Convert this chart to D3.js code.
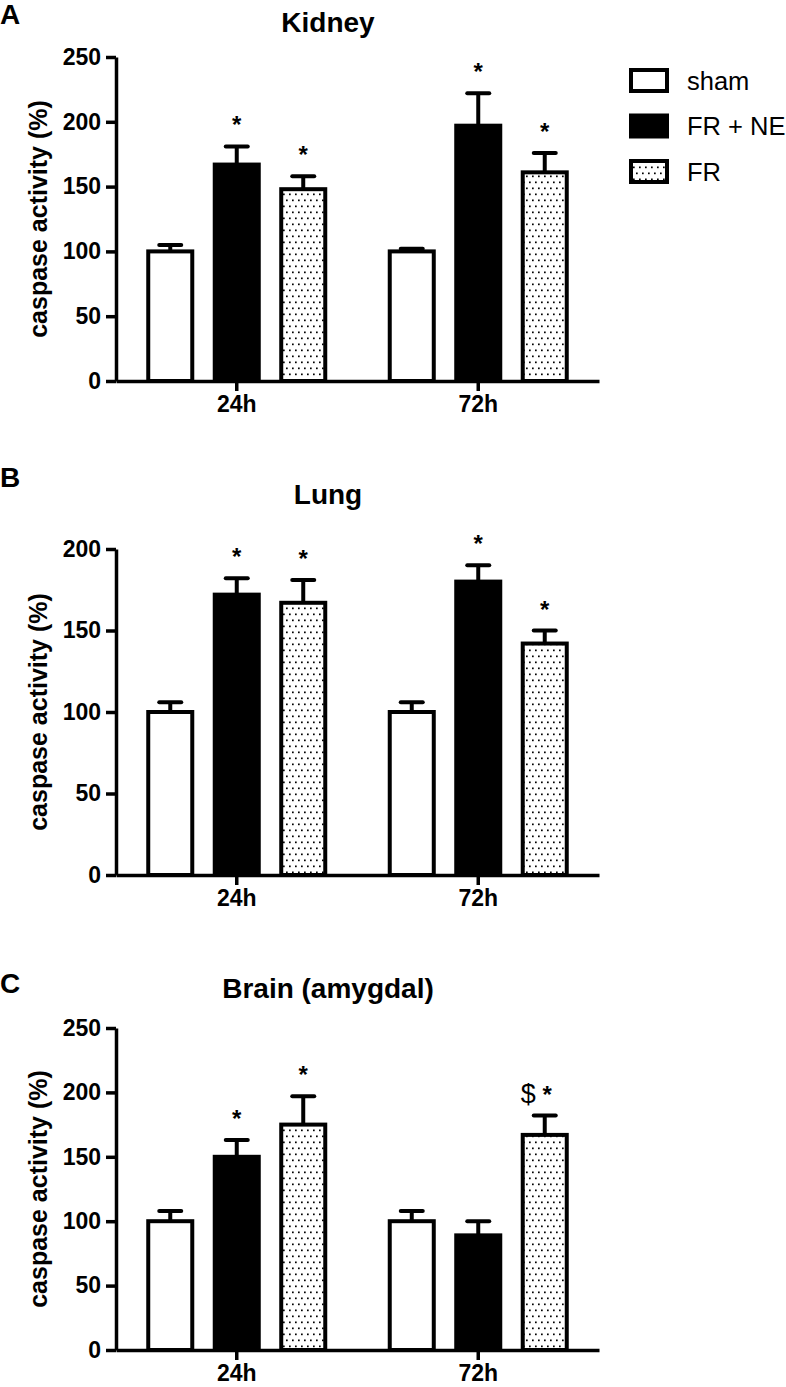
<!DOCTYPE html>
<html>
<head>
<meta charset="utf-8">
<script src="https://cdn.jsdelivr.net/npm/d3@7"></script>
<style>
  body { margin: 0; background: #fff; }
  text { font-family: "Liberation Sans", Arial, sans-serif; fill: #000; }
</style>
</head>
<body>
<div id="chart"></div>
<script>
// Data
const timepoints = ["24h", "72h"];
const groups = ["sham", "FR + NE", "FR"];

// rows = timepoints, columns = groups
const kidneyMean = [[100, 167, 148], [100, 197, 161]];
const kidneyErr = [[5, 14, 10], [2, 25, 15]];
const kidneyMarks = [["", "*", "*"], ["", "*", "*"]];
const kidneyTicks = [0, 50, 100, 150, 200, 250];

const lungMean = [[100, 172, 167], [100, 180, 142]];
const lungErr = [[6, 10, 14], [6, 10, 8]];
const lungMarks = [["", "*", "*"], ["", "*", "*"]];
const lungTicks = [0, 50, 100, 150, 200];

const brainMean = [[100, 150, 175], [100, 89, 167]];
const brainErr = [[8, 13, 22], [8, 11, 15]];
const brainMarks = [["", "*", "*"], ["", "", "$ *"]];
const brainTicks = [0, 50, 100, 150, 200, 250];

const panelLetters = ["A", "B", "C"];
const panelTitles = ["Kidney", "Lung", "Brain (amygdal)"];
const yLabel = "caspase activity (%)";

const panels = [
    { mean: kidneyMean, err: kidneyErr, marks: kidneyMarks, ticks: kidneyTicks },
    { mean: lungMean, err: lungErr, marks: lungMarks, ticks: lungTicks },
    { mean: brainMean, err: brainErr, marks: brainMarks, ticks: brainTicks },
];

// Dimensions
const dimensions = {
    width: 786,
    height: 1387,
    left: 116,
    right: 599,
}
const layout = [
    { top: 57, bottom: 381, titleY: 32, letterY: 24 },
    { top: 549, bottom: 875, titleY: 504, letterY: 487 },
    { top: 1028, bottom: 1350, titleY: 998, letterY: 993 },
]

const fills = { "sham": "#fff", "FR + NE": "#000", "FR": "url(#dots)" };

const svg = d3.select("#chart")
    .append("svg")
    .attr("width", dimensions.width)
    .attr("height", dimensions.height)

// dotted fill
const pattern = svg.append("defs").append("pattern")
    .attr("id", "dots")
    .attr("patternUnits", "userSpaceOnUse")
    .attr("width", 6)
    .attr("height", 12)
pattern.append("rect").attr("width", 6).attr("height", 12).attr("fill", "#fff")
pattern.append("rect").attr("x", 1).attr("y", 1.5).attr("width", 1.7).attr("height", 1.7).attr("fill", "#000")
pattern.append("rect").attr("x", 4).attr("y", 7.5).attr("width", 1.7).attr("height", 1.7).attr("fill", "#000")

panels.forEach((p, k) => {
    const L = layout[k];
    const g = svg.append("g");

    const yScale = d3.scaleLinear()
        .domain([0, d3.max(p.ticks)])
        .range([L.bottom, L.top])

    const x0 = d3.scaleBand()
        .domain(timepoints)
        .range([dimensions.left, dimensions.right])

    const x1 = d3.scaleBand()
        .domain(groups)
        .range([0, x0.bandwidth()])
        .paddingInner(0.338)
        .paddingOuter(0.485)

    const rows = timepoints.flatMap((t, i) => groups.map((grp, j) => ({
        t, grp, v: p.mean[i][j], e: p.err[i][j], m: p.marks[i][j]
    })))
    const cx = (d) => x0(d.t) + x1(d.grp) + x1.bandwidth() / 2;

    // error bars (upper only)
    g.selectAll(".err")
        .data(rows)
        .join("line")
        .attr("x1", cx).attr("x2", cx)
        .attr("y1", (d) => yScale(d.v))
        .attr("y2", (d) => yScale(d.v + d.e))
        .attr("stroke", "#000")
        .attr("stroke-width", 4)
    g.selectAll(".cap")
        .data(rows)
        .join("line")
        .attr("x1", (d) => cx(d) - 11).attr("x2", (d) => cx(d) + 11)
        .attr("y1", (d) => yScale(d.v + d.e))
        .attr("y2", (d) => yScale(d.v + d.e))
        .attr("stroke", "#000")
        .attr("stroke-width", 4)
        .attr("stroke-linecap", "round")

    // bars
    g.selectAll(".bar")
        .data(rows)
        .join("rect")
        .attr("x", (d) => x0(d.t) + x1(d.grp))
        .attr("y", (d) => yScale(d.v))
        .attr("width", x1.bandwidth())
        .attr("height", (d) => yScale(0) - yScale(d.v))
        .attr("fill", (d) => fills[d.grp])
        .attr("stroke", "#000")
        .attr("stroke-width", 4)

    // significance marks
    rows.filter((d) => d.m).forEach((d) => {
        const ty = yScale(d.v + d.e) - 13;
        const txt = g.append("text")
            .attr("y", ty)
            .attr("font-size", 24)
        if (d.m.includes("$")) {
            txt.attr("x", cx(d) + 7).attr("text-anchor", "end")
            txt.append("tspan").attr("font-size", 27).text("$")
            txt.append("tspan").attr("font-weight", "bold").text(" *")
        } else {
            txt.attr("x", cx(d)).attr("text-anchor", "middle")
                .attr("font-weight", "bold")
                .text(d.m)
        }
    })

    // axes
    const yAxis = d3.axisLeft(yScale)
        .tickValues(p.ticks)
        .tickSize(10)
        .tickSizeOuter(0)
        .tickPadding(5)
    const yAxisGroup = g.append("g")
        .attr("transform", `translate(${dimensions.left}, 0)`)
        .call(yAxis)
    yAxisGroup.selectAll("text")
        .attr("font-size", 23)
        .attr("font-weight", "bold")
        .style("font-family", "'Liberation Sans', Arial, sans-serif")

    const xAxis = d3.axisBottom(x0)
        .tickSize(10)
        .tickSizeOuter(0)
        .tickPadding(5)
    const xAxisGroup = g.append("g")
        .attr("transform", `translate(0, ${L.bottom})`)
        .call(xAxis)
    xAxisGroup.selectAll("text")
        .attr("font-size", 23)
        .attr("font-weight", "bold")
        .style("font-family", "'Liberation Sans', Arial, sans-serif")

    g.selectAll(".domain, .tick line")
        .attr("stroke", "#000")
        .attr("stroke-width", 3.5)

    // y label
    g.append("text")
        .attr("transform", `translate(47, ${(L.top + L.bottom) / 2}) rotate(-90)`)
        .attr("text-anchor", "middle")
        .attr("font-size", 25)
        .attr("font-weight", "bold")
        .text(yLabel)

    // title + panel letter
    g.append("text")
        .attr("x", 328)
        .attr("y", L.titleY)
        .attr("text-anchor", "middle")
        .attr("font-size", 28)
        .attr("font-weight", "bold")
        .text(panelTitles[k])
    g.append("text")
        .attr("x", 0)
        .attr("y", L.letterY)
        .attr("font-size", 28)
        .attr("font-weight", "bold")
        .text(panelLetters[k])
})

// Legend (panel A)
const legend = svg.append("g")
    .attr("transform", "translate(629, 68)")
const item = legend.selectAll("g")
    .data(groups)
    .join("g")
    .attr("transform", (d, i) => `translate(0, ${i * 45.5})`)
item.append("rect")
    .attr("x", 2).attr("y", 2)
    .attr("width", 36).attr("height", 21)
    .attr("fill", (d) => fills[d])
    .attr("stroke", "#000")
    .attr("stroke-width", 4)
item.append("text")
    .attr("x", 58)
    .attr("y", 21.5)
    .attr("font-size", 25.5)
    .text((d) => d)
</script>
</body>
</html>
